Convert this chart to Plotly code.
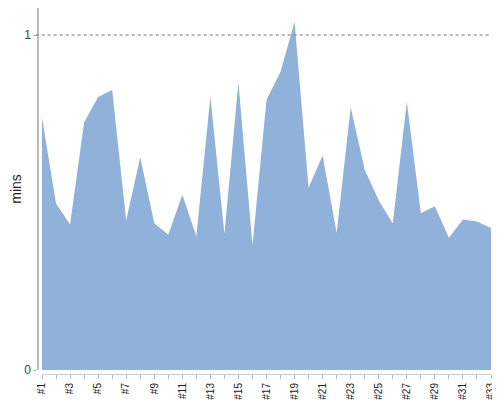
import plotly.graph_objects as go

labels = [f"#{i}" for i in range(1, 34)]
positions = list(range(1, 34))
values = [0.754, 0.497, 0.434, 0.739, 0.815, 0.836, 0.446, 0.635, 0.438, 0.404,
          0.523, 0.399, 0.816, 0.407, 0.858, 0.372, 0.806, 0.890, 1.039, 0.544,
          0.640, 0.409, 0.784, 0.598, 0.506, 0.437, 0.801, 0.468, 0.489, 0.395,
          0.449, 0.443, 0.424]
tick_text = [lab if i % 2 == 0 else "" for i, lab in enumerate(labels)]

fig = go.Figure()
fig.add_trace(go.Scatter(
    x=positions, y=values, mode="lines", fill="tozeroy",
    line=dict(width=0, color="#8FB1DA"), fillcolor="#8FB1DA",
    hoverinfo="skip", showlegend=False,
))

fig.add_shape(type="line", xref="paper", yref="y", x0=-0.005, x1=1, y0=1, y1=1,
              line=dict(color="#777777", width=1, dash="dot"), layer="above")

# page body has an 8px margin, so the figure is laid out 8px in from the top-left
fig.update_layout(
    width=492, height=392,
    margin=dict(l=30, r=9, t=0, b=26, autoexpand=False),
    paper_bgcolor="white", plot_bgcolor="white",
    font=dict(family="Liberation Sans, Arial, sans-serif", color="#333333"),
    xaxis=dict(
        domain=[4 / 453, 1], range=[1, 33], anchor="free", position=0,
        automargin=False,
        tickmode="array", tickvals=positions, ticktext=tick_text,
        tickangle=-90, tickfont=dict(size=10, color="#222222"),
        ticks="outside", ticklen=4, tickcolor="#bbbbbb",
        showline=True, linecolor="#cccccc", linewidth=1,
        showgrid=False, zeroline=False, fixedrange=True,
    ),
    yaxis=dict(
        domain=[4 / 366, 1], range=[0, 1.0806], anchor="free", position=0,
        automargin=False,
        tickmode="array", tickvals=[0, 1], ticktext=["0", "1"],
        tickfont=dict(size=12, color="#444444"),
        ticks="outside", ticklen=4, tickcolor="#bbbbbb",
        showline=True, linecolor="#bbbbbb", linewidth=1.5,
        showgrid=False, zeroline=False,
        title=dict(text="mins", font=dict(size=14, color="#222222"), standoff=2),
    ),
)

fig.write_html("out.html")
